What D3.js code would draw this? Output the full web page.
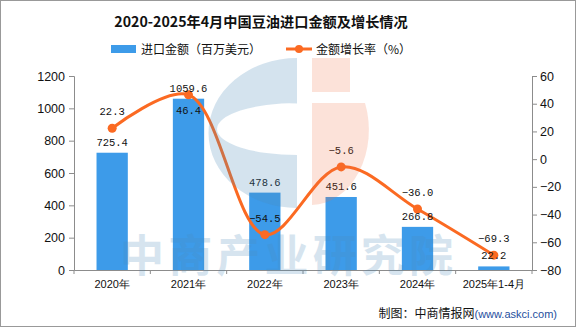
<!DOCTYPE html>
<html><head><meta charset="utf-8">
<script src="https://cdn.jsdelivr.net/npm/d3@7"></script>
<style>
html,body{margin:0;padding:0;background:#fff;}
svg{display:block;}
</style></head>
<body>
<svg id="c" width="576" height="327"></svg>
<script>
const categories = ["2020年","2021年","2022年","2023年","2024年","2025年1-4月"];
const amounts = [725.4, 1059.6, 478.6, 451.6, 266.8, 22.2];
const growth = [22.3, 46.4, -54.5, -5.6, -36.0, -69.3];
const growthLabelBelow = [false, true, false, false, false, false];
const leftTicks = [0,200,400,600,800,1000,1200];
const rightTicks = [-80,-60,-40,-20,0,20,40,60];
const titleText = "2020-2025年4月中国豆油进口金额及增长情况";
const legendBar = "进口金额（百万美元）";
const legendLine = "金额增长率（%）";
const sourceMain = "制图：中商情报网";
const sourceUrl = "(www.askci.com)";
const watermark = "中商产业研究院";

const svg = d3.select("#c");
const W = 576, H = 327;
const m = {l:74, r:44, t:76, b:57};
const cjk = "'Noto Sans CJK SC', sans-serif";
const num = "'Liberation Sans', Arial, sans-serif";
const mono = "'Liberation Mono', 'DejaVu Sans Mono', monospace";
const blue = "#3d9be9", orange = "#fb6a22", axisC = "#8c8c8c";

svg.append("rect").attr("x",0.5).attr("y",0.5).attr("width",W-1).attr("height",H-1)
  .attr("fill","#fff").attr("stroke","#999");

const x = d3.scaleBand().domain(categories).range([m.l, W-m.r]).padding(0);
const yL = d3.scaleLinear().domain([0,1200]).range([H-m.b, m.t]);
const yR = d3.scaleLinear().domain([-80,60]).range([H-m.b, m.t]);

// title
svg.append("text").attr("x",261).attr("y",27).attr("text-anchor","middle")
  .attr("font-family",cjk).attr("font-weight","bold").attr("font-size",14.2)
  .attr("fill","#111").text(titleText);

// legend
svg.append("rect").attr("x",111).attr("y",45).attr("width",25).attr("height",8).attr("fill",blue);
svg.append("text").attr("x",141).attr("y",53.5).attr("font-family",cjk).attr("font-size",12)
  .attr("fill","#111").text(legendBar);
svg.append("line").attr("x1",286).attr("x2",312).attr("y1",49).attr("y2",49)
  .attr("stroke",orange).attr("stroke-width",3);
svg.append("circle").attr("cx",299).attr("cy",49).attr("r",4).attr("fill",orange);
svg.append("text").attr("x",316).attr("y",53.5).attr("font-family",cjk).attr("font-size",12)
  .attr("fill","#111").text(legendLine);

// bars
const bw = x.bandwidth()*0.41;
svg.append("g").selectAll("rect").data(amounts).join("rect")
  .attr("x",(d,i)=>x(categories[i])+x.bandwidth()/2-bw/2)
  .attr("y",d=>yL(d)).attr("width",bw).attr("height",d=>yL(0)-yL(d)).attr("fill",blue);

// axes
const gL = svg.append("g").attr("transform",`translate(${m.l},0)`)
  .call(d3.axisLeft(yL).tickValues(leftTicks).tickSize(5).tickPadding(4).tickFormat(d3.format("d")));
const gR = svg.append("g").attr("transform",`translate(${W-m.r},0)`)
  .call(d3.axisRight(yR).tickValues(rightTicks).tickSize(5).tickPadding(3)
    .tickFormat(d=>d<0?"\u2212"+Math.abs(d):d));
const gB = svg.append("g").attr("transform",`translate(0,${H-m.b})`)
  .call(d3.axisBottom(x).tickSize(0).tickPadding(10));
const bounds = categories.map(c=>x(c)).concat([x.range()[1]]);
gB.selectAll(".bt").data(bounds).join("line").attr("class","bt")
  .attr("x1",d=>d).attr("x2",d=>d).attr("y1",0).attr("y2",4).attr("stroke",axisC);
[gL,gR,gB].forEach(g=>{
  g.select(".domain").attr("stroke",axisC);
  g.selectAll(".tick line").attr("stroke",axisC);
  g.selectAll("text").attr("fill","#111");
});
gL.selectAll("text").attr("font-family",num).attr("font-size",12.5);
gR.selectAll("text").attr("font-family",num).attr("font-size",12.5);
gB.selectAll("text").attr("font-family",num).attr("font-size",11);

// line
const pts = growth.map((g,i)=>[x(categories[i])+x.bandwidth()/2, yR(g)]);
svg.append("path").datum(pts).attr("d",d3.line().curve(d3.curveCatmullRom.alpha(0.5)))
  .attr("fill","none").attr("stroke",orange).attr("stroke-width",3);
svg.append("g").selectAll("circle").data(pts).join("circle")
  .attr("cx",d=>d[0]).attr("cy",d=>d[1]).attr("r",4.5).attr("fill",orange);

// labels
svg.append("g").selectAll("text").data(amounts).join("text")
  .attr("x",(d,i)=>x(categories[i])+x.bandwidth()/2).attr("y",d=>yL(d)-7)
  .attr("text-anchor","middle").attr("font-family",mono).attr("font-size",10.5)
  .attr("fill","#111").text(d=>d.toFixed(1));
svg.append("g").selectAll("text").data(growth).join("text")
  .attr("x",(d,i)=>pts[i][0])
  .attr("y",(d,i)=>growthLabelBelow[i] ? pts[i][1]+19 : pts[i][1]-13)
  .attr("text-anchor","middle").attr("font-family",mono).attr("font-size",10.5)
  .attr("fill","#111").text(d=>(d<0?"\u2212":"")+Math.abs(d).toFixed(1));

// watermark (on top, translucent)
const wm = svg.append("g").attr("pointer-events","none");
const cx0 = 297, cy0 = 133, R = 75;
wm.append("path").attr("fill","#4b8ab8").attr("opacity",0.24)
  .attr("fill-rule","evenodd")
  .attr("d",`M${cx0},${cy0-R} A${R*1.18},${R} 0 0 0 ${cx0},${cy0+R} Z
             M${cx0},103 A80,26 0 0 0 ${cx0},155 Z`);
const ox = 312;
wm.append("path").attr("fill","#f07040").attr("opacity",0.2)
  .attr("d",`M${ox},${cy0-R} L${ox+38},${cy0-R} L${ox+38},92 L${ox},92 Z`);
wm.append("path").attr("fill","#f07040").attr("opacity",0.2)
  .attr("d",`M${ox},103 L${ox+53},103 A58,75 0 0 1 ${ox},205 Z`);
wm.append("text").attr("x",120).attr("y",272).attr("font-family",cjk).attr("font-weight","bold")
  .attr("font-size",44).attr("textLength",333).attr("fill","#4b8ab8").attr("opacity",0.22)
  .text(watermark);

// source
const src = svg.append("text").attr("x",557).attr("y",318).attr("text-anchor","end")
  .attr("font-family",cjk).attr("font-size",12).attr("fill","#111");
src.append("tspan").text(sourceMain);
src.append("tspan").attr("font-family",num).attr("font-size",11).attr("fill","#1f4f9e").text(sourceUrl);
</script>
</body></html>
